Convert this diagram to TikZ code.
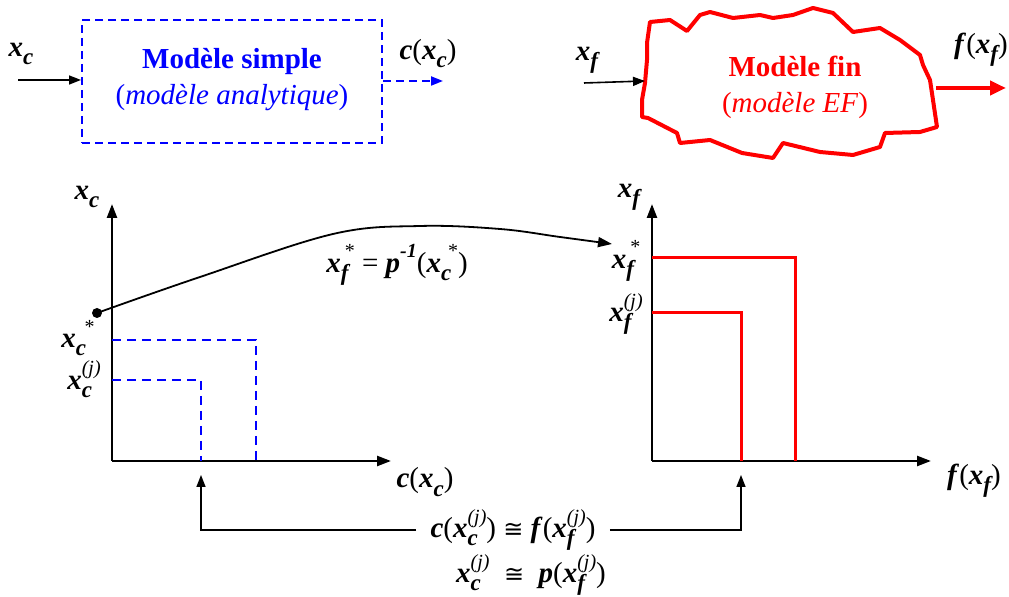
\documentclass[tikz,border=0pt]{standalone}
\usepackage{fontspec}
\setmainfont{Liberation Serif}[BoldItalicFont={Liberation Serif Bold Italic}, ItalicFont={Liberation Serif Italic}, BoldFont={Liberation Serif Bold}]
\newfontfamily\symfont{DejaVu Sans}
\usetikzlibrary{arrows.meta}
\newcommand\mybi[1]{\textbf{\textit{#1}}}
\newcommand\mysub[1]{\raisebox{-0.28em}{\fontsize{11.5}{11}\selectfont\bfseries\itshape #1}}
\newcommand\mysup[1]{\raisebox{0.5em}{\fontsize{10}{10}\selectfont #1}}
\newcommand\myvsub[2]{\mybi{#1}\mysub{#2}}
\newcommand\myvss[3]{\mybi{#1}\rlap{\mysub{#2}}\mysup{#3}}
\newcommand\myj{\textit{(j)}}
\newcommand\myapprox{{\symfont\fontsize{12}{12}\selectfont\char"2245}}
\begin{document}
\begin{tikzpicture}[x=0.5pt,y=-0.5pt,
  lbl/.style={font=\fontsize{14.5}{17}\selectfont, inner sep=0pt},
  ttl/.style={font=\fontsize{14.5}{18}\selectfont, align=center, inner sep=0pt},
  ax/.style={line width=1.2pt, -{Triangle[length=7pt,width=5pt]}},
  thinarr/.style={line width=0.8pt, -{Triangle[length=6pt,width=4.5pt]}},
  bluedash/.style={draw=blue, line width=1pt, dash pattern=on 4pt off 2.5pt},
  graphdash/.style={draw=blue, line width=1.2pt, dash pattern=on 4.5pt off 3pt},
  redline/.style={draw=red, line width=1.5pt}]
\useasboundingbox (0,0) rectangle (1009,597);

% ---------- top left: simple model
\node[bluedash, minimum width=150pt, minimum height=61.5pt, inner sep=0pt] (box) at (232,81.5) {};
\node[ttl, text=blue] (boxtxt) at (232,80) {\textbf{Modèle simple}\\(\textit{modèle analytique})};
\coordinate (inL) at (18,80);
\coordinate (outL) at (443,81);
\draw[thinarr] (inL) -- (box.west |- inL);
\draw[blue, line width=1pt, dash pattern=on 4pt off 2.5pt, -{Triangle[length=6pt,width=4.5pt]}] (box.east |- outL) -- (outL);
\node[lbl] (xcin) at (21,54) {\myvsub{x}{c}};
\node[lbl] (cxc) at (428,54) {\mybi{c}(\myvsub{x}{c})};

% ---------- top right: fine model (cloud)
\draw[red, line width=2pt, line join=round]
 (650,22) -- (670,20) -- (687,31) -- (700,15) -- (710,12) -- (733,18) -- (760,15)
 -- (773,18) -- (793,15) -- (813,8) -- (833,13) -- (853,32) -- (880,28) -- (900,40)
 -- (920,55) -- (923,65) -- (930,80) -- (933,100) -- (937,127) -- (920,132)
 -- (885,133) -- (880,147) -- (853,155) -- (820,152) -- (783,143) -- (773,158)
 -- (742,153) -- (710,140) -- (680,143) -- (677,133) -- (648,118) -- (642,117)
 -- (642,100) -- (645,83) -- (647,60) -- (647,43) -- cycle;
\node[ttl, text=red] (cloud) at (795,87) {\textbf{Modèle fin}\\(\textit{modèle EF})};
\coordinate (inR) at (584,83);
\coordinate (inRend) at (645,81);
\coordinate (outRs) at (936,88);
\coordinate (outRe) at (1006,88);
\draw[thinarr] (inR) -- (inRend);
\draw[red, line width=2.2pt, -{Triangle[length=8pt,width=7pt]}] (outRs) -- (outRe);
\node[lbl] (xfin) at (587,60) {\myvsub{x}{f}};
\node[lbl] (fxf) at (981,50) {\mybi{f}(\myvsub{x}{f})};

% ---------- left graph
\coordinate (O1) at (112,461);
\coordinate (Y1) at (112,204);
\coordinate (X1) at (391,461);
\draw[ax] (O1) -- (Y1);
\draw[ax] (O1) -- (X1);
\draw[graphdash] (112,340) -| (256,461);
\draw[graphdash] (112,380) -| (201,461);
\node[lbl] (xcax) at (87,197) {\myvsub{x}{c}};
\node[lbl] (cax) at (425,482) {\mybi{c}(\myvsub{x}{c})};
\node[lbl] (xcs) at (78,338) {\myvss{x}{c}{\hspace{0.45em}*}};
\node[lbl] (xcj) at (84,379) {\myvss{x}{c}{\myj}};
\node[circle, fill=black, inner sep=0pt, minimum size=5pt] (dot) at (97,313) {};
\coordinate (tipc) at (612,244);
\draw[line width=0.9pt, -{Triangle[length=7pt,width=5pt]}]
  plot[smooth, tension=0.6] coordinates {(dot.center) (200,277) (333,234) (420,226) (500,229) (560,237) (tipc)};
\node[lbl] (peq) at (397,265) {\myvss{x}{f}{\hspace{0.2em}*} = \mybi{p}\mysup{\mybi{-1}}(\myvss{x}{c}{\hspace{0.35em}*})};

% ---------- right graph
\coordinate (O2) at (652,461);
\coordinate (Y2) at (652,204);
\coordinate (X2) at (931,461);
\draw[ax] (O2) -- (Y2);
\draw[ax] (O2) -- (X2);
\draw[redline] (652,258) -| (795,461);
\draw[redline] (652,313) -| (741,461);
\node[lbl] (xfax) at (629,197) {\myvsub{x}{f}};
\node[lbl] (fax) at (974,481) {\mybi{f}(\myvsub{x}{f})};
\node[lbl] (xfs) at (626,261) {\myvss{x}{f}{\hspace{0.2em}*}};
\node[lbl] (xfj) at (626,314) {\myvss{x}{f}{\myj}};

% ---------- bottom relations
\node[lbl, inner xsep=7pt] (eq1) at (513,530) {\mybi{c}(\myvss{x}{c}{\myj}) \myapprox\ \mybi{f}(\myvss{x}{f}{\myj})};
\node[lbl] (eq2) at (531,575) {\myvss{x}{c}{\myj}\ \ \myapprox\ \ \mybi{p}(\myvss{x}{f}{\myj})};
\coordinate (upL) at (201,475);
\coordinate (upR) at (741,475);
\draw[thinarr] (eq1.west) -| (upL);
\draw[thinarr] (eq1.east) -| (upR);
\end{tikzpicture}
\end{document}
